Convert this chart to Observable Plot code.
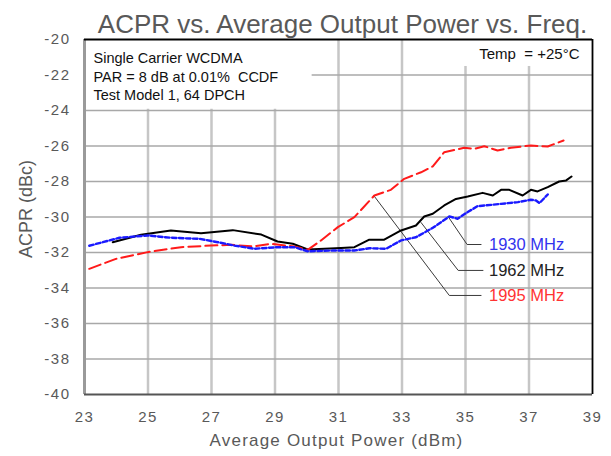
<!DOCTYPE html>
<html><head><meta charset="utf-8">
<script src="https://cdn.jsdelivr.net/npm/d3@7"></script>
<script src="https://cdn.jsdelivr.net/npm/@observablehq/plot@0.6"></script>
<style>
body{margin:0;background:#fff;}
.c g[aria-label="x-axis tick label"] text,.c g[aria-label="y-axis tick label"] text{letter-spacing:1.5px;}
</style>
</head><body><div id="chart"></div>
<script>
const title = "ACPR vs. Average Output Power vs. Freq.";
const xLabel = "Average Output Power (dBm)";
const yLabel = "ACPR (dBc)";
const xTicks = [23, 25, 27, 29, 31, 33, 35, 37, 39];
const yTicks = [-40, -38, -36, -34, -32, -30, -28, -26, -24, -22, -20];
const noteLines = "Single Carrier WCDMA\nPAR = 8 dB at 0.01%  CCDF\nTest Model 1, 64 DPCH";
const tempNote = "Temp  = +25°C";

const x1930 = [23.15, 24.10, 24.99, 25.72, 26.62, 27.20, 27.72, 28.35, 29.08, 29.61, 30.03, 30.82, 31.50, 31.97, 32.50, 32.97, 33.44, 33.97, 34.49, 34.75, 35.07, 35.38, 36.12, 36.65, 37.06, 37.22, 37.33, 37.59];
const y1930 = [-31.62, -31.17, -31.04, -31.17, -31.23, -31.42, -31.61, -31.79, -31.70, -31.70, -31.93, -31.89, -31.89, -31.76, -31.79, -31.32, -31.14, -30.61, -29.97, -30.10, -29.72, -29.39, -29.26, -29.16, -29.03, -29.07, -29.22, -28.73];

const x1962 = [23.89, 24.78, 25.72, 26.67, 27.67, 28.57, 29.08, 29.56, 30.03, 31.08, 31.50, 31.97, 32.44, 32.97, 33.44, 33.70, 33.97, 34.33, 34.70, 35.07, 35.54, 35.86, 36.12, 36.38, 36.80, 37.06, 37.27, 37.59, 37.95, 38.17, 38.34];
const y1962 = [-31.42, -31.00, -30.76, -30.91, -30.74, -30.99, -31.38, -31.51, -31.83, -31.74, -31.70, -31.28, -31.28, -30.76, -30.48, -29.97, -29.82, -29.35, -28.98, -28.85, -28.64, -28.79, -28.47, -28.47, -28.79, -28.47, -28.56, -28.32, -28.00, -27.94, -27.72];

const x1995 = [23.15, 23.99, 24.99, 26.04, 26.98, 27.61, 28.30, 28.87, 29.61, 30.03, 30.45, 30.98, 31.50, 32.13, 32.65, 33.07, 33.60, 33.97, 34.33, 34.96, 35.28, 35.59, 36.01, 36.43, 37.06, 37.59, 38.09];
const y1995 = [-32.92, -32.36, -31.98, -31.70, -31.61, -31.57, -31.66, -31.51, -31.66, -31.85, -31.32, -30.57, -30.01, -28.79, -28.47, -27.85, -27.48, -27.15, -26.35, -26.10, -26.16, -26.01, -26.25, -26.10, -25.97, -26.03, -25.69];

const seriesNames = ["1930 MHz", "1962 MHz", "1995 MHz"];
const seriesColors = ["#1a1aff", "#000000", "#ff1a1a"];
const labelColors = ["#3333ee", "#222222", "#ff3333"];
// leader lines: [start on curve, elbow, end near label]
const leaderX = [[34.45, 35.05, 35.49], [33.60, 34.77, 35.55], [32.11, 34.49, 35.49]];
const leaderY = [[-29.97, -31.55, -31.55], [-30.31, -33.01, -33.01], [-28.79, -34.42, -34.42]];
const labelX = [35.74, 35.74, 35.74];
const labelY = [-31.55, -33.01, -34.42];
// white backgrounds behind the two notes
const boxX1 = [23, 34];
const boxX2 = [30.17, 39];
const boxY1 = [-20, -20];
const boxY2 = [-23.93, -21.52];

const toPts = (xs, ys, s) => xs.map((x, i) => ({x, y: ys[i], s}));
const d1930 = toPts(x1930, y1930, seriesNames[0]);
const d1962 = toPts(x1962, y1962, seriesNames[1]);
const d1995 = toPts(x1995, y1995, seriesNames[2]);
const leaders = leaderX.flatMap((xs, k) => toPts(xs, leaderY[k], seriesNames[k]));
const labels = seriesNames.map((s, k) => ({s, x: labelX[k], y: labelY[k], c: labelColors[k]}));
const boxes = boxX1.map((v, i) => ({x1: v, x2: boxX2[i], y1: boxY1[i], y2: boxY2[i]}));

const font = "'Liberation Sans', Arial, sans-serif";
const gray = "#595959";

const chart = Plot.plot({
  className: "c",
  width: 611, height: 456,
  marginLeft: 84, marginRight: 19, marginTop: 39, marginBottom: 62,
  style: {fontFamily: font, fontSize: "15px", background: "#fff", overflow: "visible"},
  x: {domain: [23, 39]},
  y: {domain: [-40, -20]},
  marks: [
    Plot.ruleX(xTicks.slice(1, -1), {stroke: "#c6c6c6", strokeWidth: 2.5}),
    Plot.ruleY(yTicks.slice(1, -1), {stroke: "#a8a8a8", strokeWidth: 1.5}),
    Plot.rect(boxes, {x1: "x1", x2: "x2", y1: "y1", y2: "y2", fill: "white"}),
    Plot.ruleX([23], {stroke: "#9a9a9a", strokeWidth: 3}),
    Plot.ruleY([-40], {stroke: "#555", strokeWidth: 2}),
    Plot.ruleY([-20], {stroke: "#000", strokeWidth: 1.8}),
    Plot.ruleX([39], {stroke: "#000", strokeWidth: 1.8}),
    Plot.line(leaders, {x: "x", y: "y", z: "s", stroke: "#3a3a3a", strokeWidth: 1}),
    Plot.line(d1962, {x: "x", y: "y", stroke: seriesColors[1], strokeWidth: 2}),
    Plot.line(d1995, {x: "x", y: "y", stroke: seriesColors[2], strokeWidth: 2, strokeDasharray: "12 5"}),
    Plot.line(d1930, {x: "x", y: "y", stroke: seriesColors[0], strokeWidth: 2.4, strokeDasharray: "4.5 2.5"}),
    Plot.text(labels, {x: "x", y: "y", text: "s", fill: "c", textAnchor: "start", lineAnchor: "middle", fontSize: 16.5}),
    Plot.text([noteLines], {frameAnchor: "top-left", textAnchor: "start", lineAnchor: "top", dx: 9, dy: 10.7, lineHeight: 1.28, fontSize: 14.5, fill: "#111"}),
    Plot.text([tempNote], {frameAnchor: "top-right", textAnchor: "end", lineAnchor: "top", dx: -13, dy: 9.3, fontSize: 15, fill: "#111"}),
    Plot.axisX({ticks: xTicks, tickSize: 0, tickPadding: 17, label: null, color: gray, tickFormat: d => String(d)}),
    Plot.axisY({ticks: yTicks, tickSize: 0, tickPadding: 14, label: null, color: gray, tickFormat: d => String(d)}),
    Plot.text([title], {frameAnchor: "top", lineAnchor: "bottom", dx: 4, dy: -7, fontSize: 26, fill: gray}),
    Plot.text([xLabel], {frameAnchor: "bottom", lineAnchor: "bottom", dx: -2, dy: 51, fontSize: 17, fill: gray}),
    Plot.text([yLabel], {frameAnchor: "left", rotate: -90, textAnchor: "middle", lineAnchor: "middle", dx: -58, dy: -8, fontSize: 18, fill: gray})
  ]
});
document.getElementById("chart").appendChild(chart);
d3.select(chart).selectAll("text").filter(function(){ return this.textContent === xLabel; }).style("letter-spacing", "1.2px");
</script>
</body></html>
